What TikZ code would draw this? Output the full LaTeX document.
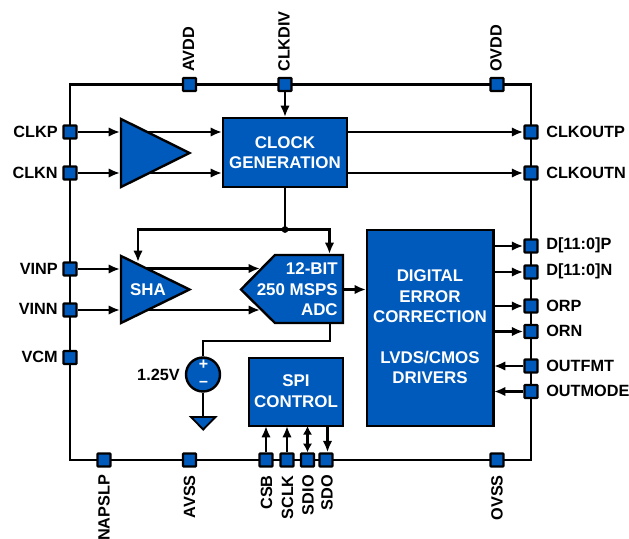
\documentclass[tikz,border=0pt]{standalone}
\usepackage{fontspec}
\setmainfont{Liberation Sans}
\usetikzlibrary{arrows.meta}
\definecolor{adblue}{RGB}{0,90,187}
\tikzset{
 x=0.75pt,y=-0.75pt,
 pin/.style={draw=black,fill=adblue,line width=1.8pt,minimum size=9.8pt,inner sep=0pt,rounded corners=0.6pt},
 wire/.style={line width=1.6pt,draw=black},
 sig/.style={wire,-{Latex[length=8.5pt,width=7pt]}},
 sigboth/.style={wire,{Latex[length=6.5pt,width=7pt]}-{Latex[length=6.5pt,width=7pt]}},
 blk/.style={draw=black,fill=adblue,line width=1.8pt},
 txt/.style={font=\fontsize{12.2pt}{13pt}\selectfont\bfseries,text=black,inner sep=0pt},
 wtxt/.style={font=\fontsize{12.7pt}{15.3pt}\selectfont\bfseries,text=white,inner sep=0pt,align=center},
}
\begin{document}
\begin{tikzpicture}
\useasboundingbox (0,0) rectangle (629,539);
% outline
\coordinate (tl) at (70,84.5);
\coordinate (tr) at (531,84.5);
\coordinate (br) at (531,460);
\coordinate (bl) at (70,460);
\draw[wire] (tl)--(tr)--(br)--(bl)--cycle;
% top pins
\node[pin] (avdd) at (189.5,84.5) {};
\node[pin] (clkdiv) at (285,84.5) {};
\node[pin] (ovdd) at (497,84.5) {};
% left pins
\node[pin] (clkp) at (70,132) {};
\node[pin] (clkn) at (70,173) {};
\node[pin] (vinp) at (70,269) {};
\node[pin] (vinn) at (70,310) {};
\node[pin] (vcm) at (70,357.5) {};
% right pins
\node[pin] (clkoutp) at (531,132) {};
\node[pin] (clkoutn) at (531,173) {};
\node[pin] (dp) at (531,246) {};
\node[pin] (dn) at (531,272) {};
\node[pin] (orp) at (531,306) {};
\node[pin] (orn) at (531,331.5) {};
\node[pin] (outfmt) at (531,366) {};
\node[pin] (outmode) at (531,391.5) {};
% bottom pins
\node[pin] (napslp) at (104,460) {};
\node[pin] (avss) at (189.5,460) {};
\node[pin] (csb) at (266,460) {};
\node[pin] (sclk) at (287,460) {};
\node[pin] (sdio) at (307.5,460) {};
\node[pin] (sdo) at (326,460) {};
\node[pin] (ovss) at (497,460) {};
% coordinates on blocks
\coordinate (clkin1) at (222,132);
\coordinate (clkin2) at (222,173);
\coordinate (clkout1) at (347,132);
\coordinate (clkout2) at (347,173);
\coordinate (clktop) at (285,117);
\coordinate (clkbot) at (285,187);
\coordinate (dot) at (285,229.5);
\coordinate (shatop) at (138,262);
\coordinate (adctop) at (329.5,254);
\coordinate (c1) at (138,229.5);
\coordinate (c2) at (329.5,229.5);
% wires behind blocks
\draw[sig] (clkp)--(120,132);
\draw[sig] (clkn)--(120,173);
\draw[sig] (vinp)--(120,269);
\draw[sig] (vinn)--(120,310);
\draw[sig] (140,132)--(clkin1);
\draw[sig] (140,173)--(clkin2);
\draw[sig] (140,268.5)--(260,268.5);
\draw[sig] (140,310)--(260,310);
% triangles
\draw[blk] (121,119)--(189.5,153)--(121,187)--cycle;
\draw[blk] (121,256)--(189.5,289.5)--(121,323)--cycle;
\node[wtxt] (shalab) at (148,289.5) {SHA};
% clock block
\node[blk,minimum width=124pt*0.75,minimum height=69pt*0.75,inner sep=0pt] (clock) at (285,152.5) {};
\node[wtxt] (clocklab) at (285,152.5) {CLOCK\\GENERATION};
\draw[sig] (clkdiv)--(clktop);
\draw[sig] (clkout1)--(clkoutp);
\draw[sig] (clkout2)--(clkoutn);
\draw[wire] (clkbot)--(dot);
\draw[sig] (dot)--(c1)--(shatop);
\draw[sig] (dot)--(c2)--(adctop);
\fill (dot) circle (3.4pt*0.75);
% ADC
\draw[blk] (343,255)--(275,255)--(241,289.5)--(275,323)--(343,323)--cycle;
\node[wtxt,align=right,anchor=east] (adclab) at (338,289.5) {12-BIT\\250 MSPS\\ADC};
% digital
\node[blk,minimum width=126.5pt*0.75,minimum height=196pt*0.75,inner sep=0pt] (digital) at (430.2,328) {};
\node[wtxt] (diglab) at (430,327) {DIGITAL\\ERROR\\CORRECTION\\[15.3pt]LVDS/CMOS\\DRIVERS};
\draw[sig] (343,289.5)--(366,289.5);
\draw[sig] (494,246)--(dp);
\draw[sig] (494,272)--(dn);
\draw[sig] (494,306)--(orp);
\draw[sig] (494,331.5)--(orn);
\draw[sig] (outfmt)--(494,366);
\draw[sig] (outmode)--(494,391.5);
% reference
\coordinate (adcb) at (330,323);
\coordinate (refmid) at (330,341);
\coordinate (gnd) at (203,417);
\node[draw=black,fill=adblue,circle,line width=1.8pt,minimum size=34pt*0.75,inner sep=0pt] (ref) at (203,374.5) {};
\draw[wire] (adcb)--(refmid)--(refmid-|ref)--(ref);
\draw[wire] (ref)--(gnd);
\node[font=\fontsize{12pt}{12pt}\selectfont\bfseries,text=white,inner sep=0pt] (plus) at (203.5,365) {+};
\node[font=\fontsize{12pt}{12pt}\selectfont\bfseries,text=white,inner sep=0pt] (minus) at (203.5,383.5) {–};
\draw[blk,line width=1.4pt] (191,417)--(215.5,417)--(203.2,429.5)--cycle;
\node[txt] (reflab) at (158.5,374.5) {1.25V};
% SPI
\node[blk,minimum width=94pt*0.75,minimum height=68pt*0.75,inner sep=0pt] (spi) at (296,392) {};
\node[wtxt] (spilab) at (296,391) {SPI\\CONTROL};
\coordinate (a1) at (266,426);
\coordinate (a2) at (287,426);
\coordinate (a3) at (307.5,426);
\coordinate (a4) at (327.5,426);
\draw[sig] (csb)--(a1);
\draw[sig] (sclk)--(a2);
\draw[sigboth] (sdio)--(a3);
\draw[sig] (a4)--(a4|-sdo.north);
% labels
\tikzset{lbl/.style={txt,anchor=east},rbl/.style={txt,anchor=west},up/.style={txt,anchor=west,rotate=90},dn/.style={txt,anchor=east,rotate=90}}
\node[lbl] (l1) at (58,131.5) {CLKP};
\node[lbl] (l2) at (58,172.5) {CLKN};
\node[lbl] (l3) at (58,268.5) {VINP};
\node[lbl] (l4) at (58,309) {VINN};
\node[lbl] (l5) at (58,357) {VCM};
\node[rbl] (r1) at (546,131.5) {CLKOUTP};
\node[rbl] (r2) at (546,172.5) {CLKOUTN};
\node[rbl] (r3) at (546,245.5) {D[11:0]P};
\node[rbl] (r4) at (546,271.5) {D[11:0]N};
\node[rbl] (r5) at (546,306) {ORP};
\node[rbl] (r6) at (546,331) {ORN};
\node[rbl] (r7) at (546,365.5) {OUTFMT};
\node[rbl] (r8) at (546,391) {OUTMODE};
\node[up] (t1) at (188.5,72) {AVDD};
\node[up] (t2) at (284,72) {CLKDIV};
\node[up] (t3) at (496,72) {OVDD};
\node[dn] (b1) at (104,474.5) {NAPSLP};
\node[dn] (b2) at (189.5,475) {AVSS};
\node[dn] (b3) at (266.5,475) {CSB};
\node[dn] (b4) at (287.5,475) {SCLK};
\node[dn] (b5) at (308,475) {SDIO};
\node[dn] (b6) at (327,475) {SDO};
\node[dn] (b7) at (497,475) {OVSS};
\end{tikzpicture}
\end{document}
